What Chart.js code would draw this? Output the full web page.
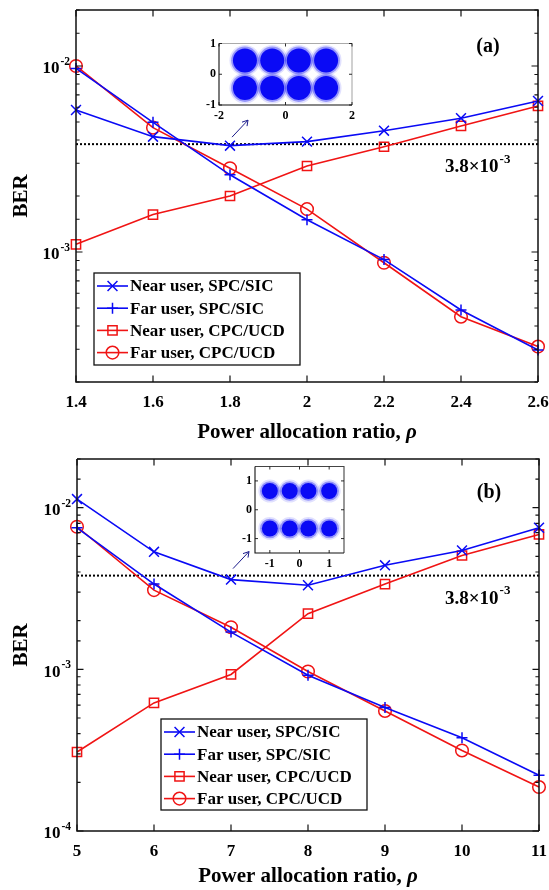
<!DOCTYPE html>
<html>
<head>
<meta charset="utf-8">
<script src="https://cdn.jsdelivr.net/npm/chart.js@4.4.1/dist/chart.umd.min.js"></script>
<style>
  body { margin: 0; background: #fff; }
  #quadro { position: relative; width: 549px; height: 890px; overflow: hidden; }
  canvas { position: absolute; }
</style>
</head>
<body>
<div id="quadro">
  <canvas id="painel-a" width="549" height="445" style="left:0;top:0"></canvas>
  <canvas id="painel-b" width="549" height="445" style="left:0;top:445px"></canvas>
  <canvas id="inset-a" width="175" height="100" style="left:195px;top:28px"></canvas>
  <canvas id="inset-b" width="130" height="120" style="left:228px;top:455px"></canvas>
</div>
<script>
// ---- dados ----
const rhoA = [1.4, 1.6, 1.8, 2.0, 2.2, 2.4, 2.6];
const nearSicA = [5.8e-3, 4.17e-3, 3.73e-3, 3.92e-3, 4.49e-3, 5.24e-3, 6.48e-3];
const farSicA  = [9.7e-3, 4.98e-3, 2.6e-3, 1.49e-3, 9.1e-4, 4.88e-4, 2.97e-4];
const nearUcdA = [1.1e-3, 1.59e-3, 2.0e-3, 2.9e-3, 3.68e-3, 4.76e-3, 6.1e-3];
const farUcdA  = [1.0e-2, 4.66e-3, 2.82e-3, 1.7e-3, 8.75e-4, 4.49e-4, 3.1e-4];

const rhoB = [5, 6, 7, 8, 9, 10, 11];
const nearSicB = [1.13e-2, 5.33e-3, 3.59e-3, 3.31e-3, 4.4e-3, 5.43e-3, 7.51e-3];
const farSicB  = [7.5e-3, 3.37e-3, 1.7e-3, 9.2e-4, 5.8e-4, 3.77e-4, 2.21e-4];
const nearUcdB = [3.08e-4, 6.2e-4, 9.3e-4, 2.21e-3, 3.37e-3, 5.06e-3, 6.83e-3];
const farUcdB  = [7.62e-3, 3.09e-3, 1.82e-3, 9.7e-4, 5.53e-4, 3.15e-4, 1.87e-4];

const limiarBER = 3.8e-3;
const xTicksA = [1.4, 1.6, 1.8, 2, 2.2, 2.4, 2.6];
const xTicksB = [5, 6, 7, 8, 9, 10, 11];
const legendas = ['Near user, SPC/SIC', 'Far user, SPC/SIC', 'Near user, CPC/UCD', 'Far user, CPC/UCD'];

// centros dos clusters das constelacoes (insets)
const constAX = [-1.22, -0.4, 0.4, 1.22, -1.22, -0.4, 0.4, 1.22];
const constAY = [0.45, 0.45, 0.45, 0.45, -0.45, -0.45, -0.45, -0.45];
const constBX = [-1, -0.33, 0.3, 1, -1, -0.33, 0.3, 1];
const constBY = [0.65, 0.65, 0.65, 0.65, -0.65, -0.65, -0.65, -0.65];
const insetTicksAX = [-2, 0, 2];
const insetTicksAY = [-1, 0, 1];
const insetTicksB = [-1, 0, 1];

const AZUL = '#0a0af5';
const VERMELHO = '#f01414';
const FONTE = '"Liberation Serif", "Times New Roman", serif';

function marcador(ctx, estilo, x, y, r) {
  ctx.beginPath();
  if (estilo === 'crossRot') {
    const d = r * Math.SQRT1_2;
    ctx.moveTo(x - d, y - d); ctx.lineTo(x + d, y + d);
    ctx.moveTo(x - d, y + d); ctx.lineTo(x + d, y - d);
  } else if (estilo === 'cross') {
    ctx.moveTo(x - r, y); ctx.lineTo(x + r, y);
    ctx.moveTo(x, y - r); ctx.lineTo(x, y + r);
  } else if (estilo === 'rect') {
    const s = r * Math.SQRT1_2;
    ctx.rect(x - s, y - s, 2 * s, 2 * s);
  } else {
    ctx.arc(x, y, r, 0, Math.PI * 2);
  }
  ctx.stroke();
}

function potencia(ctx, base, exp, x, y, fBase, fSup, alinhaDireita) {
  ctx.font = 'bold ' + fBase + 'px ' + FONTE;
  const wb = ctx.measureText(base).width;
  ctx.font = 'bold ' + fSup + 'px ' + FONTE;
  const ws = ctx.measureText(exp).width;
  const x0 = alinhaDireita ? x - wb - ws : x;
  ctx.textAlign = 'left';
  ctx.textBaseline = 'middle';
  ctx.font = 'bold ' + fBase + 'px ' + FONTE;
  ctx.fillText(base, x0, y);
  ctx.font = 'bold ' + fSup + 'px ' + FONTE;
  ctx.fillText(exp, x0 + wb + 1, y - fBase * 0.42);
}

// caixa, ticks para dentro e rotulos no estilo do matlab
const eixos = {
  id: 'eixos',
  afterDatasetsDraw(c, args, o) {
    const {ctx, chartArea: a, scales: {x, y}} = c;
    ctx.save();
    ctx.lineWidth = o.caixa;
    ctx.strokeStyle = o.corTopo || '#111';
    ctx.beginPath();
    ctx.moveTo(a.left, a.top); ctx.lineTo(a.right, a.top); ctx.lineTo(a.right, a.bottom);
    ctx.stroke();
    ctx.strokeStyle = '#111';
    ctx.beginPath();
    ctx.moveTo(a.left, a.top); ctx.lineTo(a.left, a.bottom); ctx.lineTo(a.right, a.bottom);
    ctx.stroke();

    ctx.lineWidth = o.caixa * 0.8;
    ctx.beginPath();
    x.ticks.forEach(t => {
      const px = x.getPixelForValue(t.value);
      ctx.moveTo(px, a.bottom); ctx.lineTo(px, a.bottom - o.tick);
      ctx.moveTo(px, a.top); ctx.lineTo(px, a.top + o.tick);
    });
    y.ticks.forEach(t => {
      const py = y.getPixelForValue(t.value);
      let len = o.tick;
      if (o.log) {
        const e = Math.log10(t.value);
        if (Math.abs(e - Math.round(e)) > 1e-6) len = o.tick * 0.55;
      }
      ctx.moveTo(a.left, py); ctx.lineTo(a.left + len, py);
      ctx.moveTo(a.right, py); ctx.lineTo(a.right - len, py);
    });
    ctx.stroke();

    ctx.fillStyle = '#000';
    ctx.font = 'bold ' + o.fonte + 'px ' + FONTE;
    ctx.textAlign = 'center';
    ctx.textBaseline = 'middle';
    x.ticks.forEach(t => {
      ctx.fillText(String(t.value), x.getPixelForValue(t.value), a.bottom + o.dxLabel);
    });
    y.ticks.forEach(t => {
      const py = y.getPixelForValue(t.value);
      if (o.log) {
        const e = Math.log10(t.value);
        if (Math.abs(e - Math.round(e)) > 1e-6) return;
        potencia(ctx, '10', '-' + Math.abs(Math.round(e)), a.left - o.dyLabel, py + 3, o.fonte, o.fonte * 0.68, true);
      } else {
        ctx.textAlign = 'right';
        ctx.fillText(String(t.value), a.left - o.dyLabel, py);
      }
    });
    ctx.restore();
  }
};

// titulos, legenda, anotacoes
const textos = {
  id: 'textos',
  afterDraw(c, args, o) {
    const {ctx, chartArea: a, scales: {x, y}} = c;
    ctx.save();
    ctx.fillStyle = '#000';
    // BER
    ctx.save();
    ctx.translate(22, (a.top + a.bottom) / 2);
    ctx.rotate(-Math.PI / 2);
    ctx.font = 'bold 21px ' + FONTE;
    ctx.textAlign = 'center';
    ctx.textBaseline = 'middle';
    ctx.fillText('BER', 0, 0);
    ctx.restore();
    // titulo x
    const t1 = 'Power allocation ratio, ';
    ctx.font = 'bold 21px ' + FONTE;
    const w1 = ctx.measureText(t1).width;
    ctx.font = 'italic bold 21px ' + FONTE;
    const w2 = ctx.measureText('ρ').width;
    const x0 = (a.left + a.right) / 2 - (w1 + w2) / 2;
    ctx.textAlign = 'left';
    ctx.textBaseline = 'middle';
    ctx.font = 'bold 21px ' + FONTE;
    ctx.fillText(t1, x0, a.bottom + o.tituloX);
    ctx.font = 'italic bold 21px ' + FONTE;
    ctx.fillText('ρ', x0 + w1, a.bottom + o.tituloX);
    // (a) / (b)
    ctx.font = 'bold 20px ' + FONTE;
    ctx.textAlign = 'center';
    ctx.fillText(o.painel, a.right - 50, a.top + o.painelY);
    // 3.8x10^-3
    const yl = y.getPixelForValue(limiarBER);
    potencia(ctx, '3.8×10', '-3', 445, yl + 23, 19, 13, false);
    // seta para o inset
    const sx = x.getPixelForValue(o.setaX) + 2, sy = yl - 7;
    ctx.strokeStyle = '#1a1a8a';
    ctx.lineWidth = 1;
    ctx.beginPath();
    ctx.moveTo(sx, sy); ctx.lineTo(sx + 16, sy - 17);
    ctx.moveTo(sx + 16, sy - 17); ctx.lineTo(sx + 10, sy - 15);
    ctx.moveTo(sx + 16, sy - 17); ctx.lineTo(sx + 15, sy - 11);
    ctx.stroke();
    // legenda
    const L = o.legenda;
    const bx = a.left + L.dx, by = L.top;
    ctx.fillStyle = '#fff';
    ctx.fillRect(bx, by, L.w, L.h);
    ctx.strokeStyle = '#111';
    ctx.lineWidth = 1.3;
    ctx.strokeRect(bx, by, L.w, L.h);
    c.data.datasets.slice(0, 4).forEach((ds, i) => {
      const ly = by + 13 + i * 22.2;
      ctx.strokeStyle = ds.borderColor;
      ctx.lineWidth = ds.borderWidth;
      ctx.beginPath();
      ctx.moveTo(bx + 3, ly); ctx.lineTo(bx + 34, ly);
      ctx.stroke();
      ctx.lineWidth = ds.pointBorderWidth;
      marcador(ctx, ds.pointStyle, bx + 18.5, ly, ds.pointRadius);
      ctx.fillStyle = '#000';
      ctx.font = 'bold 17px ' + FONTE;
      ctx.textAlign = 'left';
      ctx.textBaseline = 'middle';
      ctx.fillText(ds.label, bx + 36, ly + 1);
    });
    ctx.restore();
  }
};

function serie(nome, xs, ys, cor, estilo, raio) {
  return {
    label: nome,
    data: xs.map((v, i) => ({x: v, y: ys[i]})),
    borderColor: cor,
    borderWidth: 1.6,
    pointStyle: estilo,
    pointRadius: raio,
    pointBorderColor: cor,
    pointBackgroundColor: 'rgba(0,0,0,0)',
    pointBorderWidth: 1.5,
    tension: 0,
    clip: false
  };
}

function painel(id, cfg) {
  new Chart(document.getElementById(id), {
    type: 'line',
    data: {
      datasets: [
        serie(legendas[0], cfg.x, cfg.s[0], AZUL, 'crossRot', 7),
        serie(legendas[1], cfg.x, cfg.s[1], AZUL, 'cross', 5.5),
        serie(legendas[2], cfg.x, cfg.s[2], VERMELHO, 'rect', 6.5),
        serie(legendas[3], cfg.x, cfg.s[3], VERMELHO, 'circle', 6.3),
        {
          label: 'limiar',
          data: [{x: cfg.x[0], y: limiarBER}, {x: cfg.x[cfg.x.length - 1], y: limiarBER}],
          borderColor: '#000',
          borderWidth: 2,
          borderDash: [2, 2],
          pointRadius: 0
        }
      ]
    },
    options: {
      responsive: false,
      animation: false,
      devicePixelRatio: 1,
      layout: {padding: {top: cfg.topo, right: cfg.direita, left: 0, bottom: 0}},
      scales: {
        x: {
          type: 'linear', min: cfg.x[0], max: cfg.x[cfg.x.length - 1],
          grid: {display: false}, border: {display: false}, ticks: {display: false},
          afterBuildTicks: s => { s.ticks = cfg.xTicks.map(v => ({value: v})); },
          afterFit: s => { s.height = cfg.alturaX; }
        },
        y: {
          type: 'logarithmic', min: cfg.yMin, max: cfg.yMax,
          grid: {display: false}, border: {display: false}, ticks: {display: false},
          afterFit: s => { s.width = cfg.larguraY; }
        }
      },
      plugins: {
        legend: {display: false},
        tooltip: {enabled: false},
        eixos: {log: true, caixa: 1.5, tick: 6.5, fonte: 17, dxLabel: 21, dyLabel: 7},
        textos: cfg.textos
      }
    },
    plugins: [eixos, textos]
  });
}

painel('painel-a', {
  x: rhoA, s: [nearSicA, farSicA, nearUcdA, farUcdA], xTicks: xTicksA,
  yMin: 2e-4, yMax: 2e-2, topo: 10, direita: 11, alturaX: 63, larguraY: 76,
  textos: {painel: '(a)', painelY: 37, tituloX: 51, setaX: 1.8,
           legenda: {dx: 18, top: 273, w: 206, h: 92}}
});

painel('painel-b', {
  x: rhoB, s: [nearSicB, farSicB, nearUcdB, farUcdB], xTicks: xTicksB,
  yMin: 1e-4, yMax: 2e-2, topo: 14, direita: 10, alturaX: 59, larguraY: 77,
  textos: {painel: '(b)', painelY: 34, tituloX: 46, setaX: 7,
           legenda: {dx: 84, top: 274, w: 206, h: 91}}
});

function constelacao(id, cfg) {
  const pontos = cfg.xs.map((v, i) => ({x: v, y: cfg.ys[i]}));
  new Chart(document.getElementById(id), {
    type: 'scatter',
    data: {
      datasets: [
        {data: pontos, pointRadius: cfg.raio, backgroundColor: AZUL, borderWidth: 0},
        {data: pontos, pointRadius: cfg.raio + 1.8, backgroundColor: 'rgba(10,10,245,0.35)', borderWidth: 0},
        {data: pontos, pointRadius: cfg.raio + 3.5, backgroundColor: 'rgba(10,10,245,0.12)', borderWidth: 0}
      ]
    },
    options: {
      responsive: false,
      animation: false,
      devicePixelRatio: 1,
      layout: {padding: {top: cfg.topo, right: cfg.direita, left: 0, bottom: 0}},
      scales: {
        x: {
          type: 'linear', min: cfg.xMin, max: cfg.xMax,
          grid: {display: false}, border: {display: false}, ticks: {display: false},
          afterBuildTicks: s => { s.ticks = cfg.tx.map(v => ({value: v})); },
          afterFit: s => { s.height = cfg.alturaX; }
        },
        y: {
          type: 'linear', min: cfg.yMin, max: cfg.yMax,
          grid: {display: false}, border: {display: false}, ticks: {display: false},
          afterBuildTicks: s => { s.ticks = cfg.ty.map(v => ({value: v})); },
          afterFit: s => { s.width = cfg.larguraY; }
        }
      },
      plugins: {
        legend: {display: false},
        tooltip: {enabled: false},
        eixos: {log: false, caixa: 1.1, tick: 3, fonte: 12, dxLabel: 11, dyLabel: 3, corTopo: cfg.corTopo}
      }
    },
    plugins: [{
      id: 'fundo',
      beforeDatasetsDraw(c) {
        const a = c.chartArea;
        c.ctx.save();
        c.ctx.fillStyle = '#fff';
        c.ctx.fillRect(a.left, a.top, a.width, a.height);
        c.ctx.restore();
      }
    }, eixos]
  });
}

constelacao('inset-a', {
  xs: constAX, ys: constAY, tx: insetTicksAX, ty: insetTicksAY, raio: 12,
  xMin: -2, xMax: 2, yMin: -1, yMax: 1,
  topo: 10, direita: 18, alturaX: 23, larguraY: 24, corTopo: '#aaa'
});

constelacao('inset-b', {
  xs: constBX, ys: constBY, tx: insetTicksB, ty: insetTicksB, raio: 8,
  xMin: -1.5, xMax: 1.5, yMin: -1.5, yMax: 1.5,
  topo: 10, direita: 14, alturaX: 22, larguraY: 27, corTopo: '#444'
});
</script>
</body>
</html>
